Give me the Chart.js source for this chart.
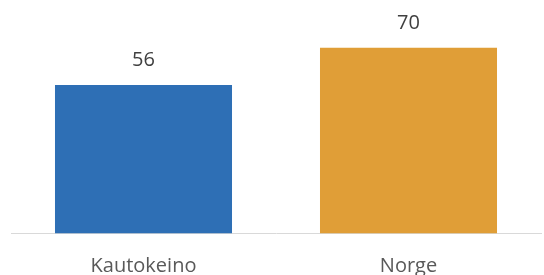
<!DOCTYPE html>
<html>
<head>
<meta charset="utf-8">
<script src="https://cdn.jsdelivr.net/npm/chart.js@4"></script>
<style>
  html, body { margin: 0; padding: 0; background: #fff; }
  #wrap { width: 544px; height: 275px; }
</style>
</head>
<body>
<div id="wrap"><canvas id="chart"></canvas></div>
<script>
const categories = ["Kautokeino", "Norge"];
const values = [56, 70];
const barColors = ["#2E6FB5", "#E09E37"];

// draw the value above each bar
const valueLabels = {
    id: "valueLabels",
    afterDatasetsDraw(chart) {
        const ctx = chart.ctx;
        const meta = chart.getDatasetMeta(0);
        ctx.save();
        ctx.font = "20px 'Open Sans'";
        ctx.fillStyle = "#404040";
        ctx.textAlign = "center";
        ctx.textBaseline = "middle";
        meta.data.forEach((bar, i) => {
            ctx.fillText(values[i], bar.x, bar.y - 24.5);
        });
        ctx.restore();
    }
};

new Chart(document.getElementById("chart"), {
    type: "bar",
    data: {
        labels: categories,
        datasets: [{
            data: values,
            backgroundColor: barColors,
            barPercentage: 0.668,
            categoryPercentage: 1
        }]
    },
    options: {
        responsive: true,
        maintainAspectRatio: false,
        animation: false,
        layout: { padding: { left: 11, right: 3, top: 0, bottom: 0 } },
        plugins: {
            legend: { display: false },
            tooltip: { enabled: false }
        },
        scales: {
            x: {
                grid: { display: false, drawTicks: false },
                border: { display: true, color: "#d9d9d9", width: 1 },
                ticks: {
                    color: "#595959",
                    padding: 23,
                    font: { family: "'Open Sans'", size: 20, lineHeight: 1 }
                },
                afterFit(scale) {
                    scale.height = 41.5;
                }
            },
            y: {
                display: false,
                min: 0,
                max: 88
            }
        }
    },
    plugins: [valueLabels]
});
</script>
</body>
</html>
